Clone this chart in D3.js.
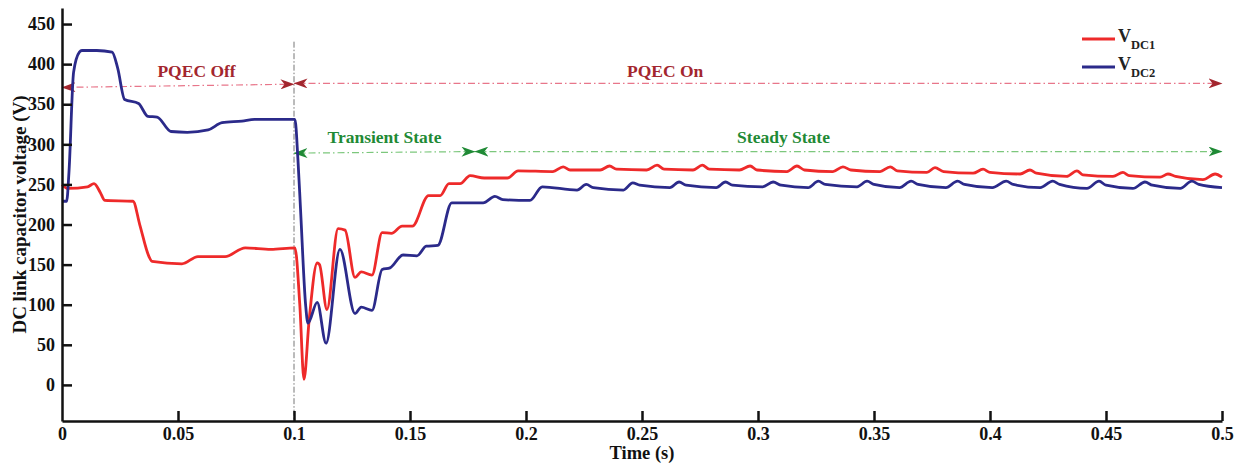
<!DOCTYPE html>
<html>
<head>
<meta charset="utf-8">
<script src="https://cdn.jsdelivr.net/npm/d3@7"></script>
<style>
  body { margin: 0; background: #fff; }
  svg text { font-family: "Liberation Serif", "Times New Roman", serif; font-weight: bold; }
</style>
</head>
<body>
<div id="chart"></div>
<script>
// values: [time (s), voltage (V)]
var vdc1 = [
  [0,250],[0.0025,245],[0.011,247],[0.0138,251],[0.0165,240],[0.0185,230],[0.0306,229],
  [0.0335,200],[0.0375,160],[0.0388,154],[0.0517,151],[0.0586,160],[0.0703,160],[0.079,171],
  [0.09,169],[0.1004,171],[0.1025,100],[0.1043,7],[0.1065,80],[0.110,152],[0.111,150],
  [0.1142,94],[0.119,195],[0.122,193],[0.1263,134],[0.129,141],[0.1336,137],[0.138,190],
  [0.142,189],[0.1466,198],[0.151,198],[0.158,236],[0.163,236],[0.1668,251],[0.1716,251],
  [0.1759,261],[0.182,258],[0.192,258],[0.1966,267],[0.2116,266],[0.216,272],[0.219,268],
  [0.232,268],[0.236,273],[0.239,269],[0.252,268],[0.2565,274],[0.2595,269],[0.272,268],
  [0.276,274],[0.279,269],[0.292,268],[0.2966,273],[0.2996,268],[0.3125,266],[0.3168,273],
  [0.32,268],[0.3323,266],[0.3366,272],[0.34,268],[0.3526,266],[0.357,272],[0.36,267],
  [0.3728,265],[0.3763,271],[0.38,266],[0.3927,264],[0.397,269],[0.4,265],[0.413,263],
  [0.4172,268],[0.42,264],[0.433,260],[0.4375,267],[0.44,262],[0.453,260],[0.4573,265],
  [0.46,261],[0.4733,259],[0.4767,263],[0.48,260],[0.4918,256],[0.497,263],[0.5,259]
];
var vdc2 = [
  [0,229],[0.002,229],[0.003,265],[0.005,390],[0.0075,415],[0.0086,417],[0.015,417],
  [0.0216,415],[0.024,395],[0.027,356],[0.033,351],[0.037,335],[0.041,334],[0.047,316],
  [0.054,315],[0.063,318],[0.069,327],[0.0776,329],[0.083,331],[0.1004,331],[0.1017,281],
  [0.1028,220],[0.105,100],[0.106,77],[0.110,103],[0.1138,52],[0.1198,169],[0.1263,89],
  [0.129,97],[0.1336,93],[0.138,144],[0.1414,146],[0.147,162],[0.153,161],[0.157,173],
  [0.162,174],[0.168,227],[0.1815,227],[0.1866,235],[0.19,231],[0.2017,230],[0.207,247],
  [0.222,243],[0.226,250],[0.229,246],[0.242,243],[0.246,252],[0.249,249],[0.262,246],
  [0.266,253],[0.269,249],[0.282,246],[0.286,253],[0.289,249],[0.302,247],[0.3065,253],
  [0.31,249],[0.3216,246],[0.326,254],[0.329,250],[0.3427,247],[0.347,254],[0.35,250],
  [0.361,246],[0.366,254],[0.369,250],[0.381,246],[0.386,254],[0.389,250],[0.401,246],
  [0.407,254],[0.41,250],[0.4216,246],[0.427,254],[0.43,250],[0.4418,245],[0.447,254],
  [0.45,249],[0.4616,245],[0.4668,253],[0.47,249],[0.482,245],[0.487,254],[0.49,250],[0.5,246]
];
var xTicks = [0,0.05,0.1,0.15,0.2,0.25,0.3,0.35,0.4,0.45,0.5];
var yTicks = [0,50,100,150,200,250,300,350,400,450];
var seriesNames = ["DC1","DC2"];
// annotation spans: [t start, t end, v start, v end]
var pqecSpans = [[0,0.1,371,375],[0.1,0.5,376,376]];
var stateSpans = [[0.1,0.178,289,291],[0.178,0.5,291,291]];
var annotationLabels = [
  {text:"PQEC Off", t:0.058, v:384},
  {text:"PQEC On", t:0.26, v:384},
  {text:"Transient State", t:0.139, v:302},
  {text:"Steady State", t:0.311, v:302}
];

var width = 1243, height = 465;
var margin = {top: 8, right: 21, bottom: 44, left: 62};

var svg = d3.select("#chart")
  .append("svg")
    .attr("width", width)
    .attr("height", height);

var x = d3.scaleLinear()
  .domain([0, 0.5])
  .range([margin.left, width - margin.right]);
var y = d3.scaleLinear()
  .domain([-45, 470])
  .range([height - margin.bottom, margin.top]);

// arrowhead markers
var defs = svg.append("defs");
function addMarker(id, color) {
  defs.append("marker")
    .attr("id", id)
    .attr("viewBox", "0 -5 14 10")
    .attr("refX", 13.5)
    .attr("refY", 0)
    .attr("markerWidth", 14)
    .attr("markerHeight", 10)
    .attr("markerUnits", "userSpaceOnUse")
    .attr("orient", "auto-start-reverse")
    .append("path")
      .attr("d", "M0,-5L14,0L0,5L4,0Z")
      .attr("fill", color);
}
addMarker("arRed", "#a3262e");
addMarker("arGreen", "#1f8a35");

// vertical marker at t = 0.1
svg.append("line")
  .attr("x1", x(0.1)).attr("x2", x(0.1))
  .attr("y1", y(428)).attr("y2", y(-45))
  .attr("stroke", "#777")
  .attr("stroke-width", 1)
  .attr("stroke-dasharray", "6,2,1.5,2");

// span arrows
svg.selectAll(".pqec")
  .data(pqecSpans)
  .enter().append("line")
    .attr("x1", function(d) { return x(d[0]); })
    .attr("x2", function(d) { return x(d[1]); })
    .attr("y1", function(d) { return y(d[2]); })
    .attr("y2", function(d) { return y(d[3]); })
    .attr("stroke", "#e8768a")
    .attr("stroke-width", 1.2)
    .attr("stroke-dasharray", "7,3,1.5,3")
    .attr("marker-start", "url(#arRed)")
    .attr("marker-end", "url(#arRed)");

svg.selectAll(".state")
  .data(stateSpans)
  .enter().append("line")
    .attr("x1", function(d) { return x(d[0]); })
    .attr("x2", function(d) { return x(d[1]); })
    .attr("y1", function(d) { return y(d[2]); })
    .attr("y2", function(d) { return y(d[3]); })
    .attr("stroke", "#7cc77c")
    .attr("stroke-width", 1.2)
    .attr("stroke-dasharray", "7,3,1.5,3")
    .attr("marker-start", "url(#arGreen)")
    .attr("marker-end", "url(#arGreen)");

svg.selectAll(".annot")
  .data(annotationLabels)
  .enter().append("text")
    .attr("x", function(d) { return x(d.t); })
    .attr("y", function(d) { return y(d.v); })
    .attr("text-anchor", "middle")
    .style("font-size", "17.5px")
    .attr("fill", function(d, i) { return i < 2 ? "#a3262e" : "#1f8a35"; })
    .text(function(d) { return d.text; });

// lines
var line = d3.line()
  .x(function(d) { return x(d[0]); })
  .y(function(d) { return y(d[1]); })
  .curve(d3.curveMonotoneX);
var colors = ["#ee2a2a", "#2b2a8a"];

svg.append("path")
  .datum(vdc1)
  .attr("fill", "none")
  .attr("stroke", colors[0])
  .attr("stroke-width", 2.8)
  .attr("d", line);
svg.append("path")
  .datum(vdc2)
  .attr("fill", "none")
  .attr("stroke", colors[1])
  .attr("stroke-width", 2.8)
  .attr("d", line);

// axes
var xAxis = svg.append("g")
  .attr("transform", "translate(0," + y(-45) + ")")
  .call(d3.axisBottom(x)
    .tickValues(xTicks)
    .tickSizeInner(-10)
    .tickSizeOuter(0)
    .tickPadding(6)
    .tickFormat(function(d) { return String(+d.toFixed(2)); }));
var yAxis = svg.append("g")
  .attr("transform", "translate(" + x(0) + ",0)")
  .call(d3.axisLeft(y)
    .tickValues(yTicks)
    .tickSizeInner(-10)
    .tickSizeOuter(0)
    .tickPadding(7));
[xAxis, yAxis].forEach(function(g) {
  g.select(".domain").attr("stroke", "#111").attr("stroke-width", 2.5);
  g.selectAll(".tick line").attr("stroke", "#111").attr("stroke-width", 2.5);
  g.selectAll(".tick text").attr("fill", "#111").style("font-size", "18px")
    .style("font-family", "'Liberation Serif', serif").style("font-weight", "bold");
});
xAxis.select(".tick line").remove();

svg.append("text")
  .attr("x", (x(0) + x(0.5)) / 2)
  .attr("y", 459)
  .attr("text-anchor", "middle")
  .style("font-size", "18.5px")
  .attr("fill", "#111")
  .text("Time (s)");

svg.append("text")
  .attr("transform", "translate(26," + (y(-45) + y(470)) / 2 + ")rotate(-90)")
  .attr("text-anchor", "middle")
  .style("font-size", "19px")
  .attr("fill", "#111")
  .text("DC link capacitor voltage (V)");

// legend
var legend = svg.append("g").attr("transform", "translate(1082,39)");
seriesNames.forEach(function(name, i) {
  var g = legend.append("g").attr("transform", "translate(0," + (i * 28) + ")");
  g.append("line")
    .attr("x1", 0).attr("x2", 33)
    .attr("stroke", colors[i])
    .attr("stroke-width", 2.8);
  var t = g.append("text")
    .attr("x", 36).attr("y", 3)
    .attr("fill", "#222")
    .style("font-size", "18px");
  t.append("tspan").text("V");
  t.append("tspan")
    .attr("dy", 7)
    .style("font-size", "12.5px")
    .text(name);
});
</script>
</body>
</html>
